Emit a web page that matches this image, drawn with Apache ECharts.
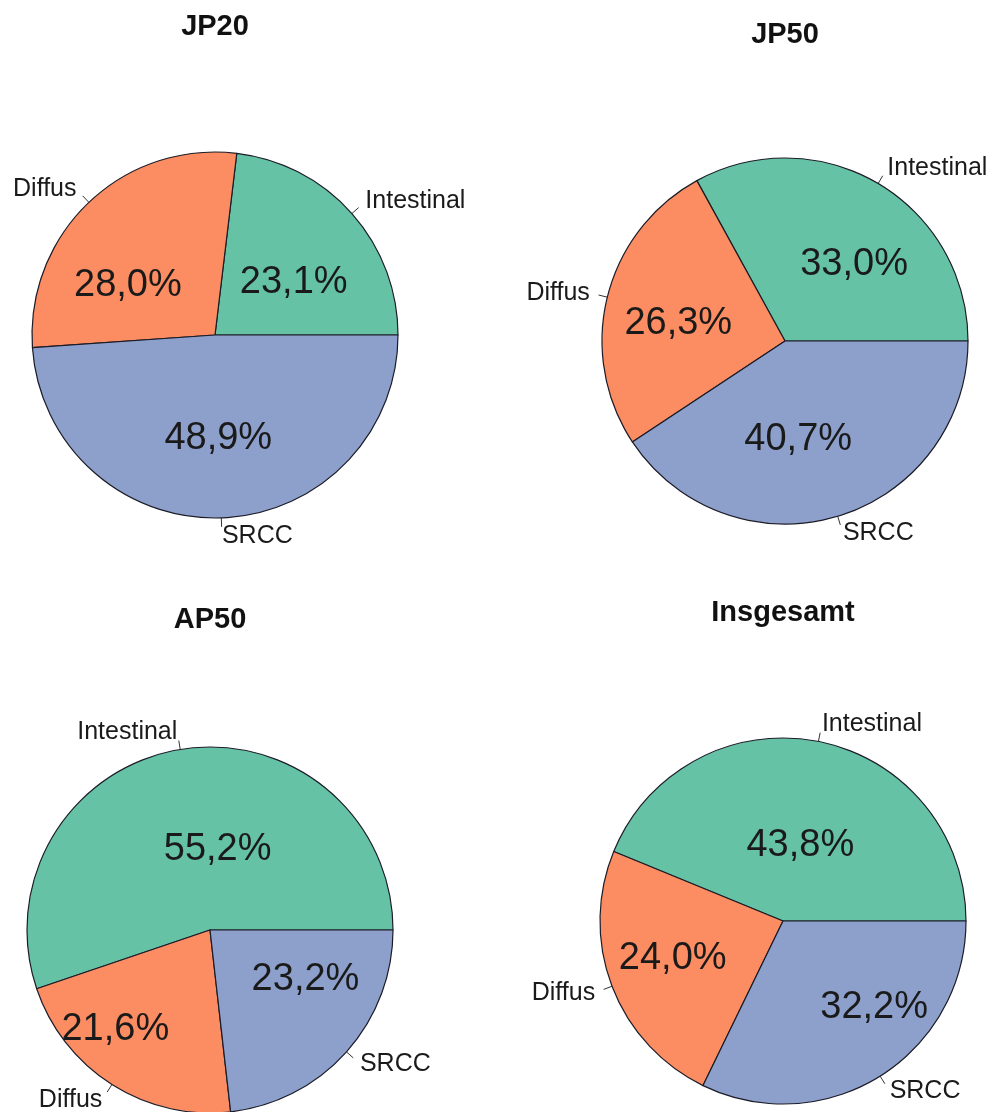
<!DOCTYPE html>
<html>
<head>
<meta charset="utf-8">
<title>Histologische Typen</title>
<script src="https://cdn.jsdelivr.net/npm/echarts@6/dist/echarts.min.js"></script>
<style>
  html, body { margin: 0; padding: 0; background: #ffffff; }
  #chart { width: 994px; height: 1112px; }
</style>
</head>
<body>
<div id="chart"></div>
<script>
// Histological type shares (%) per cohort
const categories = ['Intestinal', 'Diffus', 'SRCC'];
const jp20 = [23.1, 28.0, 48.9];
const jp50 = [33.0, 26.3, 40.7];
const ap50 = [55.2, 21.6, 23.2];
const insgesamt = [43.8, 24.0, 32.2];
const panelTitles = ['JP20', 'JP50', 'AP50', 'Insgesamt'];
const panelValues = [jp20, jp50, ap50, insgesamt];

// Presentation settings
const sliceColors = ['#66c2a5', '#fc8d62', '#8da0cb'];
const pieRadius = 183;
const panelLayout = [
  { center: [215, 335], titleY: 27 },
  { center: [785, 341], titleY: 35 },
  { center: [210, 930], titleY: 620 },
  { center: [783, 921], titleY: 613 }
];
// nudges for the percentage labels inside the slices
const pctLabelShift = [
  [[8, 10], [-22, 19], [0, 9]],
  [[21, 5], [-15, 5], [-14, 8]],
  [[23, 13], [-44, 20], [25, -13]],
  [[-1, 17], [-22, 4], [41, 6]]
];
const FONT = '"Liberation Sans", Arial, Helvetica, sans-serif';
const INK = '#1a1a1a';

const fmtPct = v => v.toFixed(1).replace('.', ',') + '%';

function basePie(values, center) {
  return {
    type: 'pie',
    center: center,
    radius: pieRadius,
    startAngle: 0,
    clockwise: false,
    avoidLabelOverlap: false,
    silent: true,
    animation: false,
    emphasis: { disabled: true },
    labelLayout: { hideOverlap: false },
    data: categories.map((name, i) => ({ name: name, value: values[i] }))
  };
}

const series = [];
panelValues.forEach((values, p) => {
  const center = panelLayout[p].center;

  // coloured slices with percentage labels
  const slices = basePie(values, center);
  slices.data = slices.data.map((d, i) => Object.assign(d, {
    itemStyle: { color: sliceColors[i] }
  }));
  slices.itemStyle = { borderColor: '#1c1c28', borderWidth: 1.2 };
  slices.label = {
    show: true,
    position: 'inside',
    formatter: params => fmtPct(params.value),
    fontFamily: FONT,
    fontSize: 38,
    color: INK
  };
  slices.labelLine = { show: false };
  slices.labelLayout = params => ({
    hideOverlap: false,
    dx: pctLabelShift[p][params.dataIndex][0],
    dy: pctLabelShift[p][params.dataIndex][1]
  });
  series.push(slices);

  // category names, set a little beyond the rim ticks
  const names = basePie(values, center);
  names.itemStyle = { color: 'transparent', borderWidth: 0 };
  names.label = {
    show: true,
    position: 'outside',
    formatter: '{b}',
    fontFamily: FONT,
    fontSize: 25,
    color: INK,
    distanceToLabelLine: 0
  };
  names.labelLine = {
    show: true,
    length: 18,
    length2: 0,
    lineStyle: { color: 'transparent', width: 0 }
  };
  series.push(names);

  // short leader ticks from the rim
  const ticks = basePie(values, center);
  ticks.itemStyle = { color: 'transparent', borderWidth: 0 };
  ticks.label = {
    show: true,
    position: 'outside',
    formatter: ' ',
    fontSize: 1,
    color: 'transparent',
    distanceToLabelLine: 0
  };
  ticks.labelLine = {
    show: true,
    length: 9,
    length2: 0,
    lineStyle: { color: '#333333', width: 1 }
  };
  series.push(ticks);
});

const titles = panelTitles.map((t, p) => ({
  text: t,
  left: panelLayout[p].center[0],
  top: panelLayout[p].titleY,
  padding: 0,
  textAlign: 'center',
  textVerticalAlign: 'middle',
  textStyle: { fontFamily: FONT, fontSize: 29, fontWeight: 'bold', color: '#111111' }
}));

const chart = echarts.init(document.getElementById('chart'), null, { renderer: 'canvas' });
chart.setOption({
  backgroundColor: '#ffffff',
  animation: false,
  title: titles,
  series: series
});
</script>
</body>
</html>
